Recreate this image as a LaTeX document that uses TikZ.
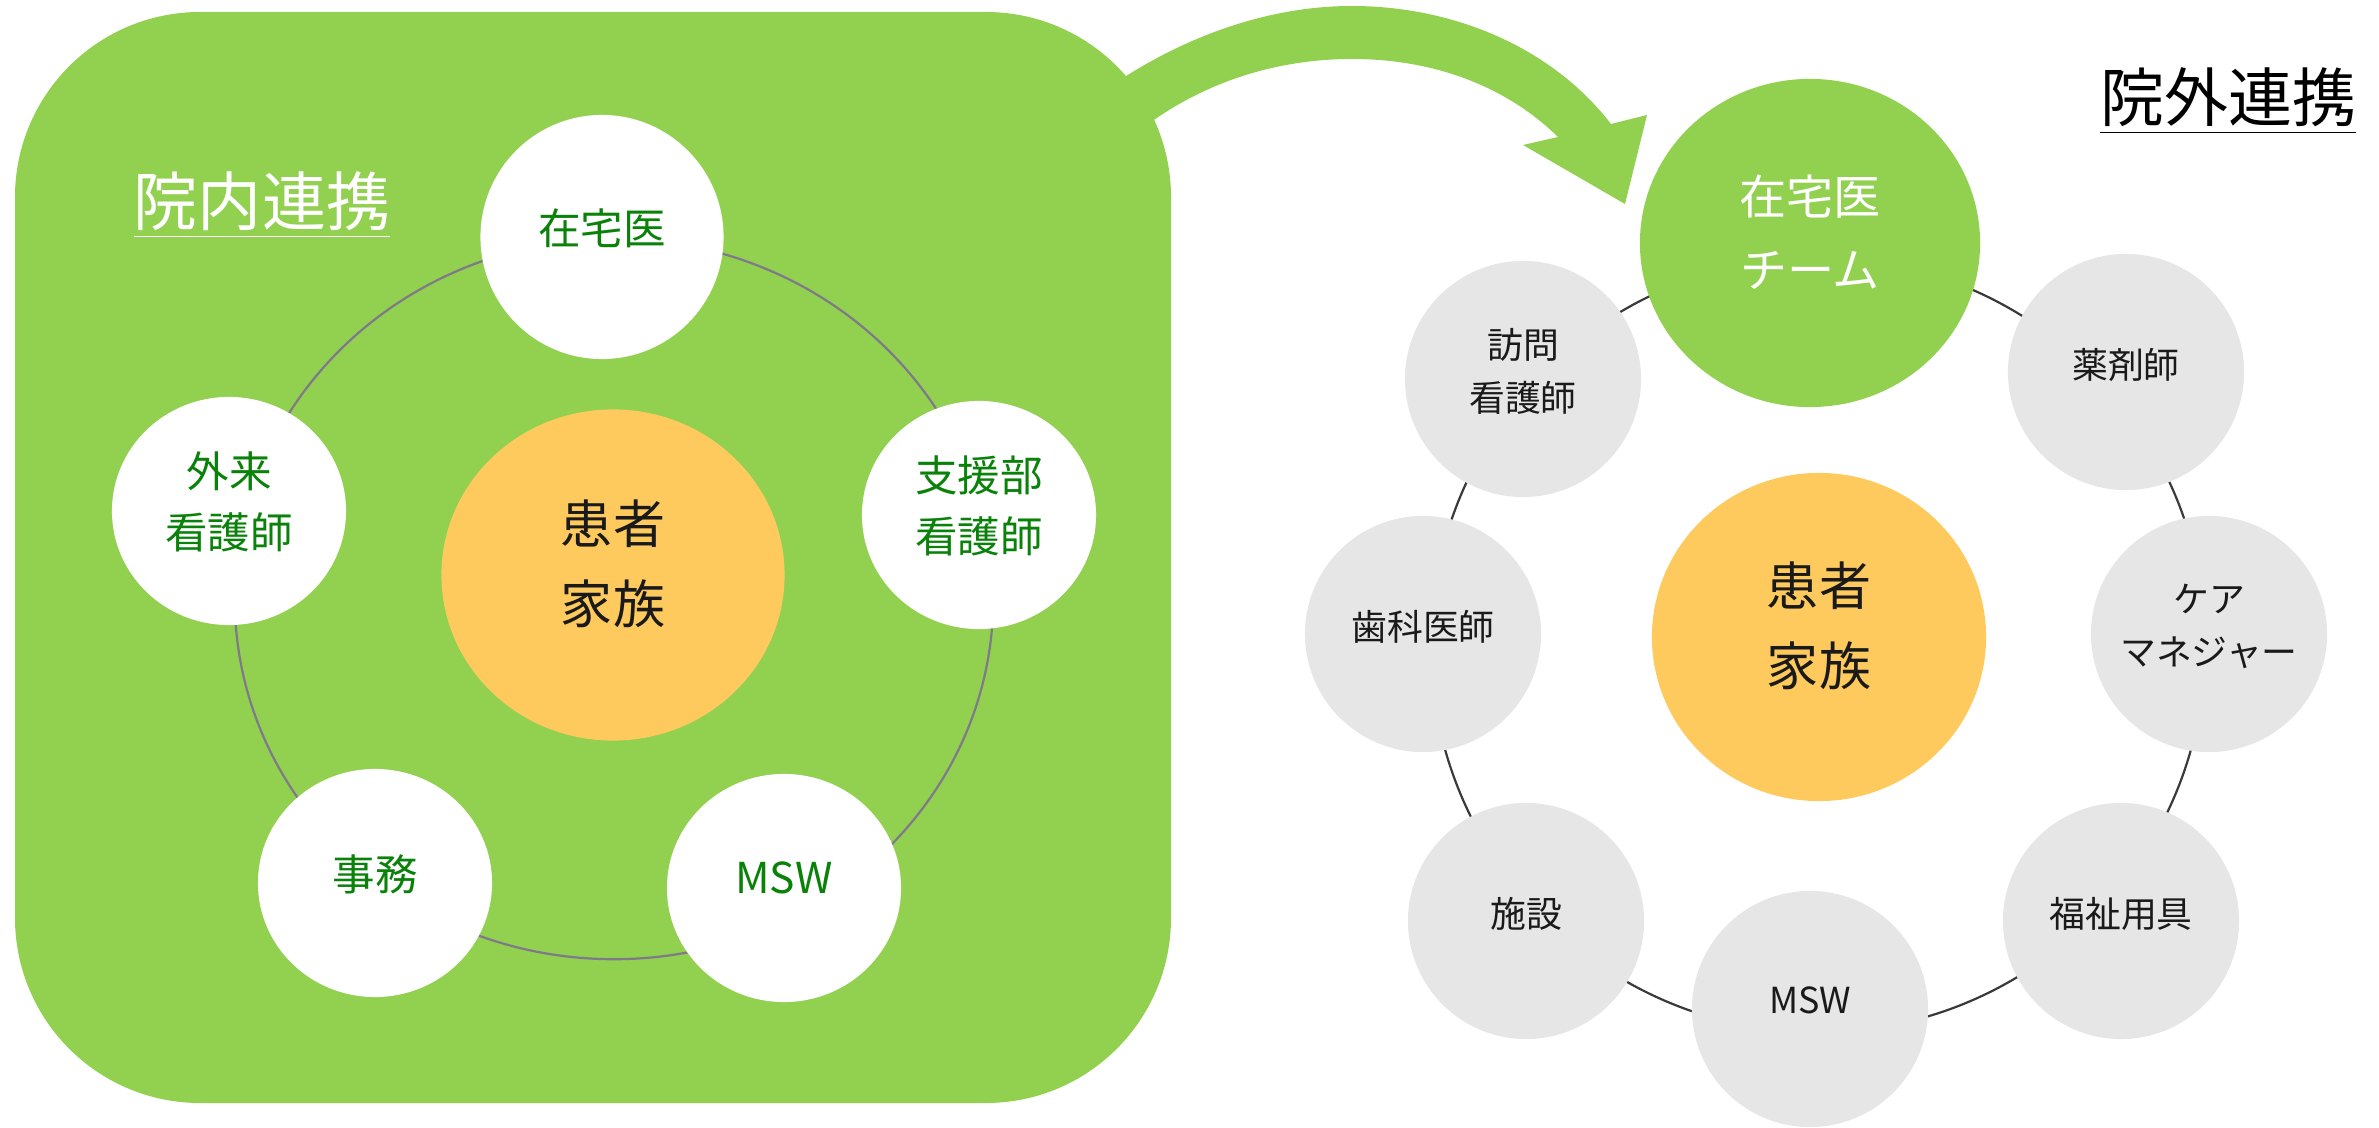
\documentclass[tikz,border=0pt]{standalone}
\usepackage{fontspec}
\setmainfont{Noto Sans CJK JP}
\usetikzlibrary{shapes.geometric}
\definecolor{boxgreen}{HTML}{92D050}
\definecolor{txtgreen}{HTML}{0A820A}
\definecolor{patient}{HTML}{FECA5E}
\definecolor{greyc}{HTML}{E7E6E6}
\definecolor{ringl}{HTML}{7F7A8A}
\definecolor{ringr}{HTML}{3A3A3A}
\definecolor{darktxt}{HTML}{1A1A1A}
\begin{document}
\begin{tikzpicture}[x=0.01cm,y=-0.01cm,
  innerc/.style={ellipse, fill=white, inner sep=0pt, text=txtgreen, align=center,
    minimum width=2.34cm, minimum height=2.28cm, text depth=6pt,
    font=\fontsize{12.1}{17.4}\selectfont},
  outerc/.style={circle, fill=greyc, minimum size=2.36cm, inner sep=0pt, align=center,
    text=darktxt, text depth=5.1pt, font=\fontsize{10.2}{15}\selectfont},
  patientc/.style={ellipse, fill=patient, inner sep=0pt, align=center, text=darktxt,
    text depth=7.4pt, font=\fontsize{14.8}{22.8}\selectfont},
  titletxt/.style={inner sep=0pt, anchor=base, font=\fontsize{18.2}{22}\selectfont}
]
\useasboundingbox (0,0) rectangle (2379,1128);

% left box
\fill[boxgreen, rounded corners=1.85cm] (15,12) rectangle (1171,1103);

% big arrow
\fill[boxgreen] (1083,104) -- (1123,78) .. controls (1190,35) and (1270,6) .. (1352,6)
  .. controls (1450,6) and (1550,45) .. (1611,124) -- (1647,115) -- (1625,204)
  -- (1523,145) -- (1558,137) .. controls (1510,90) and (1440,59) .. (1352,59)
  .. controls (1280,59) and (1210,80) .. (1151,122) -- (1111,150) -- cycle;

% left ring
\draw[ringl, line width=0.022cm] (614,599) ellipse [x radius=3.79cm, y radius=3.60cm];

% left nodes
\node[titletxt, text=white] (tin) at (262,226) {\underline{院内連携}};
\node[innerc, minimum width=2.43cm, minimum height=2.44cm] (lz) at (602,237) {在宅医};
\node[innerc] (lg) at (229,511) {外来\\看護師};
\node[innerc] (ls) at (979,515) {支援部\\看護師};
\node[innerc] (lj) at (375,883) {事務};
\node[innerc] (lm) at (784,888) {MSW};
\node[patientc, minimum width=3.43cm, minimum height=3.31cm] (lp) at (613,575) {患者\\家族};

% right ring
\draw[ringr, line width=0.022cm] (1818,645) circle [radius=3.87cm];

% right nodes
\node[titletxt, text=black] (tout) at (2228,122) {\underline{院外連携}};
\node[ellipse, fill=boxgreen, inner sep=0pt, minimum width=3.40cm, minimum height=3.28cm,
  align=center, text=white, text depth=6.9pt, font=\fontsize{13.4}{20.8}\selectfont] (rz) at (1810,243) {在宅医\\チーム};
\node[outerc] (rh) at (1523,379) {訪問\\看護師};
\node[outerc] (ry) at (2126,372) {薬剤師};
\node[outerc] (rc) at (2209,634) {ケア\\マネジャー};
\node[outerc] (rf) at (2121,921) {福祉用具};
\node[outerc] (rm) at (1810,1009) {MSW};
\node[outerc] (rs) at (1526,921) {施設};
\node[outerc] (rd) at (1423,634) {歯科医師};
\node[patientc, minimum width=3.34cm, minimum height=3.28cm] (rp) at (1819,637) {患者\\家族};
\end{tikzpicture}
\end{document}
